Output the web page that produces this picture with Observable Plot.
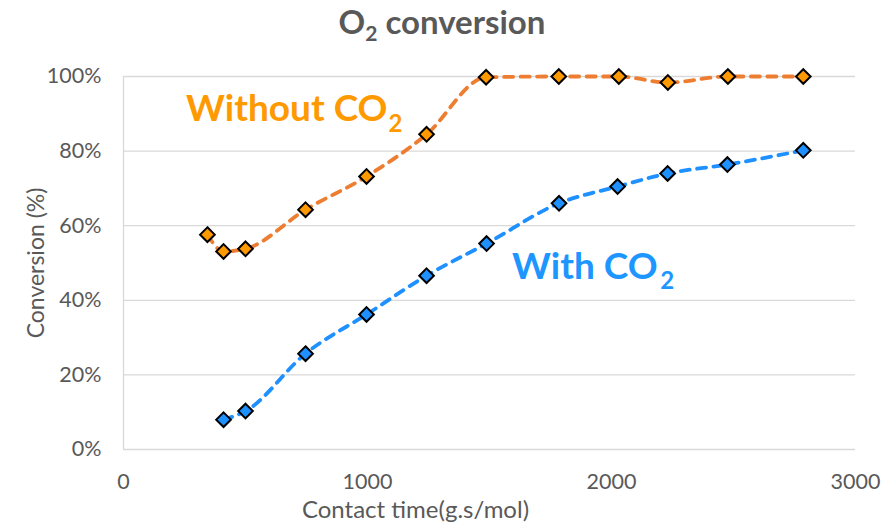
<!DOCTYPE html>
<html>
<head>
<meta charset="utf-8">
<script src="https://cdn.jsdelivr.net/npm/d3@7"></script>
<script src="https://cdn.jsdelivr.net/npm/@observablehq/plot@0.6"></script>
<style>
  html, body { margin: 0; padding: 0; background: #fff; }
  #wrap { width: 884px; height: 526px; position: relative; overflow: hidden; }
  #title { height: 46px; text-align: center; font-family: Lato, sans-serif; font-weight: bold;
           font-size: 33px; color: #595959; line-height: 42px; box-sizing: border-box; }
  #title sub { font-size: 21px; vertical-align: -7px; line-height: 0; }
</style>
</head>
<body>
<div id="wrap">
  <div id="title">O<sub>2</sub> conversion</div>
  <div id="chart"></div>
</div>
<script>
// Without CO2 series
const timeWithout = [344, 410, 500, 746, 996, 1242, 1486, 1784, 2030, 2231, 2477, 2786];
const convWithout = [57.6, 53.1, 53.8, 64.3, 73.2, 84.5, 99.8, 100, 100, 98.4, 100, 100];
// With CO2 series
const timeWith = [410, 500, 746, 996, 1242, 1488, 1785, 2025, 2230, 2475, 2786];
const convWith = [8.0, 10.3, 25.7, 36.2, 46.6, 55.2, 66.0, 70.5, 74.0, 76.4, 80.2];
// Ticks
const xTicks = [0, 1000, 2000, 3000];
const yTicks = [0, 20, 40, 60, 80, 100];

const orangeLine = "#ED7D31", orangeFill = "#FF9900", orangeText = "#FF9900";
const blueLine = "#1E90FF", blueFill = "#1E90FF", blueText = "#1E96FF";

const without = timeWithout.map((t, i) => ({t, c: convWithout[i]}));
const withCO2 = timeWith.map((t, i) => ({t, c: convWith[i]}));

const font = "Lato, sans-serif";

const chart = Plot.plot({
  width: 884,
  height: 480,
  marginLeft: 123,
  marginRight: 29,
  marginTop: 30,
  marginBottom: 77,
  style: {fontFamily: font, color: "#595959", background: "white"},
  x: {domain: [0, 3000]},
  y: {domain: [0, 100]},
  marks: [
    Plot.gridY(yTicks.filter(d => d > 0), {stroke: "#D9D9D9", strokeOpacity: 1, strokeWidth: 1.3}),
    Plot.ruleX([0], {stroke: "#D9D9D9", strokeWidth: 1.3}),
    Plot.ruleY([0], {stroke: "#D9D9D9", strokeWidth: 1.3}),
    Plot.axisY({ticks: yTicks, tickSize: 0, tickPadding: 22, tickFormat: d => d + "%", label: null,
                fontSize: 21.5, fill: "#595959"}),
    Plot.axisY({ticks: [], label: "Conversion (%)", labelAnchor: "center", labelOffset: 96, labelArrow: "none",
                fontSize: 23, fill: "#595959"}),
    Plot.axisX({ticks: xTicks, tickSize: 0, tickPadding: 24, tickFormat: d => String(d), label: null, fontSize: 21.5, fill: "#595959"}),
    Plot.text(["Contact time(g.s/mol)"], {frameAnchor: "bottom", lineAnchor: "middle", dx: -74, dy: 61, fontSize: 24, fill: "#595959"}),
    Plot.line(without, {x: "t", y: "c", stroke: orangeLine, strokeWidth: 3.8, strokeDasharray: "9,7.5",
                        strokeLinecap: "round", curve: "monotone-x"}),
    Plot.line(withCO2, {x: "t", y: "c", stroke: blueLine, strokeWidth: 3.8, strokeDasharray: "9,7.5",
                        strokeLinecap: "round", curve: "monotone-x"}),
    Plot.dot(without, {x: "t", y: "c", symbol: "diamond2", r: 6.6, fill: orangeFill, stroke: "black", strokeWidth: 2, fillOpacity: 1}),
    Plot.dot(withCO2, {x: "t", y: "c", symbol: "diamond2", r: 6.6, fill: blueFill, stroke: "black", strokeWidth: 2, fillOpacity: 1}),
    // annotations
    Plot.text(["Without CO"], {x: [1082], y: [91.3], textAnchor: "end", fontSize: 37, fontWeight: "bold", fill: orangeText}),
    Plot.text(["2"], {x: [1086], y: [87.1], textAnchor: "start", fontSize: 24, fontWeight: "bold", fill: orangeText}),
    Plot.text(["With CO"], {x: [2189], y: [48.9], textAnchor: "end", fontSize: 37, fontWeight: "bold", fill: blueText}),
    Plot.text(["2"], {x: [2200], y: [45.0], textAnchor: "start", fontSize: 24, fontWeight: "bold", fill: blueText})
  ]
});
document.getElementById("chart").appendChild(chart);
</script>
</body>
</html>
